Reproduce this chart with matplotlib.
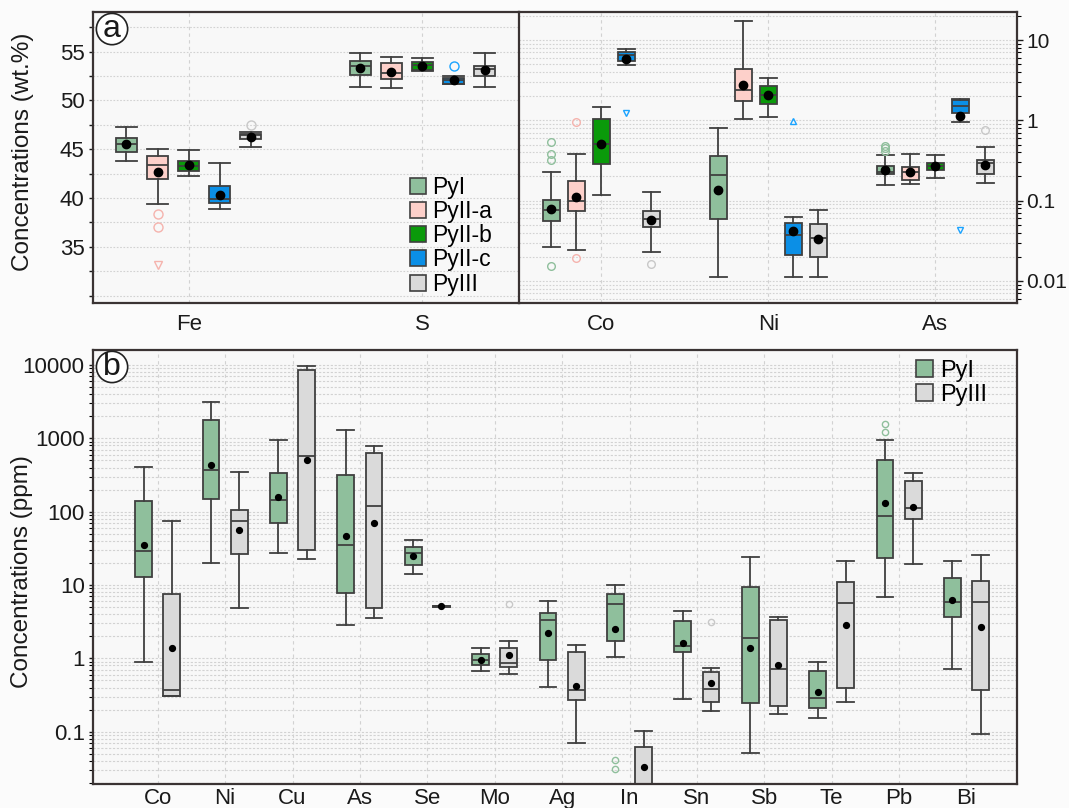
import matplotlib
matplotlib.use("Agg")
import matplotlib.pyplot as plt
from matplotlib.patches import Patch
from matplotlib.ticker import MultipleLocator, LogLocator, FixedLocator, FuncFormatter, NullFormatter

plt.rcParams['font.family'] = ['Liberation Sans', 'DejaVu Sans']

# ---------------------------------------------------------------- data
groups_a = ["PyI", "PyII-a", "PyII-b", "PyII-c", "PyIII"]
colors_a = ["#8fbf9c", "#fdd0ca", "#0a9a0a", "#0b8fe6", "#dadada"]
flier_colors_a = ["#8fbf9c", "#f5b3ad", "#0a9a0a", "#1aa3ff", "#c8c8c8"]

# rows per group: [lower whisker, Q1, median, Q3, upper whisker, mean]
major_elements = ["Fe", "S"]
fe_stats = [
    [43.75, 44.7, 45.5, 46.2, 47.3, 45.5],
    [39.4, 41.9, 43.4, 44.3, 45.0, 42.7],
    [42.25, 42.8, 43.3, 43.8, 44.9, 43.4],
    [38.9, 39.45, 39.9, 41.25, 43.6, 40.3],
    [45.25, 46.0, 46.45, 46.6, 46.8, 46.3],
]
s_stats = [
    [51.35, 52.6, 53.5, 54.0, 54.9, 53.3],
    [51.25, 52.25, 52.85, 53.8, 54.45, 52.9],
    [53.0, 53.1, 53.6, 53.9, 54.35, 53.5],
    [51.65, 51.65, 52.05, 52.35, 52.5, 52.1],
    [51.4, 52.55, 53.2, 53.55, 54.9, 53.1],
]
minor_elements = ["Co", "Ni", "As"]
co_stats = [
    [0.0262, 0.0564, 0.0759, 0.103, 0.23, 0.0795],
    [0.0243, 0.0737, 0.099, 0.177, 0.381, 0.111],
    [0.118, 0.283, 0.513, 1.04, 1.45, 0.51],
    [4.93, 5.48, 6.5, 7.16, 7.8, 5.8],
    [0.0232, 0.047, 0.0597, 0.075, 0.129, 0.0569],
]
ni_stats = [
    [0.0112, 0.0597, 0.206, 0.363, 0.81, 0.1345],
    [1.04, 1.74, 2.41, 4.35, 17.1, 2.75],
    [1.09, 1.6, 2.07, 2.7, 3.4, 2.07],
    [0.0112, 0.0213, 0.037, 0.0523, 0.062, 0.0415],
    [0.0112, 0.0197, 0.0346, 0.0507, 0.0766, 0.0336],
]
as_stats = [
    [0.155, 0.213, 0.23, 0.267, 0.37, 0.243],
    [0.161, 0.182, 0.23, 0.262, 0.385, 0.225],
    [0.19, 0.239, 0.27, 0.297, 0.37, 0.27],
    [0.96, 1.22, 1.49, 1.78, 1.86, 1.13],
    [0.167, 0.213, 0.297, 0.32, 0.47, 0.28],
]
# outliers: (element, group, value, marker)
outliers_major = [
    ("Fe", "PyII-a", 38.35, "o"), ("Fe", "PyII-a", 37.05, "o"),
    ("Fe", "PyII-a", 33.1, "v"), ("Fe", "PyIII", 47.5, "o"),
    ("S", "PyII-c", 53.55, "o"),
]
outliers_minor = [
    ("Co", "PyI", 0.54, "o"), ("Co", "PyI", 0.384, "o"), ("Co", "PyI", 0.318, "o"),
    ("Co", "PyI", 0.0152, "o"), ("Co", "PyII-a", 0.96, "o"), ("Co", "PyII-a", 0.0193, "o"),
    ("Co", "PyII-c", 1.22, "v"), ("Co", "PyIII", 0.0161, "o"),
    ("Ni", "PyII-c", 0.99, "^"),
    ("As", "PyI", 0.48, "o"), ("As", "PyI", 0.45, "o"), ("As", "PyI", 0.42, "o"),
    ("As", "PyII-c", 0.0432, "v"), ("As", "PyIII", 0.766, "o"),
]

trace_elements = ["Co", "Ni", "Cu", "As", "Se", "Mo", "Ag", "In", "Sn", "Sb", "Te", "Pb", "Bi"]
groups_b = ["PyI", "PyIII"]
colors_b = ["#8fbf9c", "#dadada"]
pyI_stats = [
    [0.88, 12.7, 29.4, 141, 403, 35.1],
    [20.2, 149, 370, 1800, 3160, 437],
    [27, 69.4, 144, 333, 949, 157],
    [2.85, 7.69, 35.5, 320, 1312, 46.1],
    [14.1, 18.7, 27, 32.7, 41, 25.1],
    [0.67, 0.80, 0.95, 1.15, 1.4, 0.95],
    [0.407, 0.95, 3.33, 4.11, 6.05, 2.19],
    [1.05, 1.72, 5.45, 7.6, 10.0, 2.48],
    [0.276, 1.21, 1.49, 3.23, 4.42, 1.6],
    [0.0507, 0.248, 1.89, 9.5, 24.1, 1.4],
    [0.153, 0.212, 0.285, 0.665, 0.9, 0.344],
    [6.93, 23.1, 87.3, 507, 960, 130],
    [0.708, 3.66, 5.8, 12.3, 21.2, 6.3],
]
pyIII_stats = [
    [0.303, 0.303, 0.374, 7.46, 74.6, 1.37],
    [4.9, 26.2, 74.6, 105, 344, 55.6],
    [22.6, 30, 574, 8460, 9800, 507],
    [3.5, 4.8, 119, 624, 794, 69.3],
    [5.0, 5.05, 5.1, 5.15, 5.2, 5.1],
    [0.618, 0.753, 0.873, 1.4, 1.74, 1.11],
    [0.0708, 0.27, 0.366, 1.23, 1.5, 0.42],
    [0.012, 0.014, 0.016, 0.061, 0.102, 0.0333],
    [0.193, 0.251, 0.378, 0.644, 0.73, 0.466],
    [0.172, 0.224, 0.722, 3.3, 3.66, 0.82],
    [0.257, 0.39, 5.74, 10.9, 21.2, 2.82],
    [19.5, 79.4, 113, 262, 333, 117],
    [0.092, 0.366, 5.87, 11.3, 25.7, 2.65],
]
outliers_trace = [
    ("In", "PyI", 0.041), ("In", "PyI", 0.0306),
    ("Pb", "PyI", 1550), ("Pb", "PyI", 1230),
    ("Mo", "PyIII", 5.5), ("Sn", "PyIII", 3.13),
]
flier_colors_b = ["#8fbf9c", "#c8c8c8"]

# ---------------------------------------------------------------- style
EDGE = "#404040"
SPINE = "#3a3333"
GRID = "#d2d2d2"
BG = "#f8f8f8"
TXT = "#1a1a1a"
TICK_FS = 16


def to_stats(row):
    lo, q1, med, q3, hi, mean = row
    return dict(whislo=lo, q1=q1, med=med, q3=q3, whishi=hi, mean=mean, fliers=[])


def draw_group(ax, rows, positions, color, width, lw, mean_ms):
    stats = [to_stats(r) for r in rows]
    return ax.bxp(stats, positions=positions, widths=width, capwidths=width,
                  patch_artist=True, showmeans=True, showfliers=False,
                  manage_ticks=False,
                  boxprops=dict(facecolor=color, edgecolor=EDGE, linewidth=lw),
                  whiskerprops=dict(color=EDGE, linewidth=lw),
                  capprops=dict(color=EDGE, linewidth=lw),
                  medianprops=dict(color=EDGE, linewidth=lw),
                  meanprops=dict(marker="o", markerfacecolor="black",
                                 markeredgecolor="black", markersize=mean_ms))


def style_spines(ax):
    for s in ax.spines.values():
        s.set_color(SPINE)
        s.set_linewidth(1.6)
    ax.set_facecolor(BG)


def panel_tag(ax, x, y, letter):
    ax.text(x, y, letter, transform=ax.transAxes, fontsize=23, ha="center",
            va="center", color=TXT, zorder=6,
            bbox=dict(boxstyle="circle,pad=0.02", fc="white", ec="#222222", lw=1.2))


fig = plt.figure(figsize=(10.69, 8.08), dpi=100, facecolor="#fbfbfb")

# ---------------------------------------------------------------- panel a, left (linear, wt.%)
axL = fig.add_axes([0.0870, 0.6246, 0.3985, 0.3605])
axR = fig.add_axes([0.4855, 0.6246, 0.4659, 0.3605])
style_spines(axL)
style_spines(axR)

off_L, w_L = 0.133, 0.0885
for gi, g in enumerate(groups_a):
    rows = [fe_stats[gi], s_stats[gi]]
    pos = [ei + (gi - 2) * off_L for ei in range(len(major_elements))]
    draw_group(axL, rows, pos, colors_a[gi], w_L, 1.3, 6)
for el, g, v, m in outliers_major:
    gi = groups_a.index(g)
    x = major_elements.index(el) + (gi - 2) * off_L
    axL.plot([x], [v], marker=m, ls="none", mfc="none", mec=flier_colors_a[gi],
             ms=6.5 if m == "o" else 5.5, mew=1.0, zorder=3)

axL.set_xlim(-0.409, 1.413)
axL.set_ylim(29.2, 59.07)
axL.set_xticks(range(len(major_elements)))
axL.set_xticklabels(major_elements)
axL.yaxis.set_minor_locator(MultipleLocator(2.5))
axL.set_yticks([35, 40, 45, 50, 55])
axL.tick_params(axis="x", length=0, pad=8, labelsize=TICK_FS, colors=TXT)
axL.tick_params(axis="y", which="both", direction="out", length=3, width=1,
                pad=3, labelsize=TICK_FS, colors=TXT)
axL.grid(True, axis="y", which="both", color=GRID, linestyle=(0, (1.5, 1.5)), linewidth=0.8)
axL.grid(True, axis="x", color=GRID, linestyle=(0, (3, 3)), linewidth=0.8)
axL.set_axisbelow(True)
axL.spines["right"].set_visible(False)
axL.set_ylabel("Concentrations (wt.%)", fontsize=17.5, color=TXT)
axL.yaxis.set_label_coords(-0.1385, 0.52)

# ---------------------------------------------------------------- panel a, right (log, wt.%)
off_R, w_R = 0.150, 0.102
for gi, g in enumerate(groups_a):
    rows = [co_stats[gi], ni_stats[gi], as_stats[gi]]
    pos = [ei + (gi - 2) * off_R for ei in range(len(minor_elements))]
    draw_group(axR, rows, pos, colors_a[gi], w_R, 1.3, 6)
for el, g, v, m in outliers_minor:
    gi = groups_a.index(g)
    x = minor_elements.index(el) + (gi - 2) * off_R
    axR.plot([x], [v], marker=m, ls="none", mfc="none", mec=flier_colors_a[gi],
             ms=5.5 if m == "o" else 5.0, mew=1.0, zorder=3)

axR.set_yscale("log")
axR.set_xlim(-0.493, 2.489)
axR.set_ylim(0.00527, 22.3)
axR.set_xticks(range(len(minor_elements)))
axR.set_xticklabels(minor_elements)
axR.yaxis.tick_right()
axR.yaxis.set_major_locator(FixedLocator([0.01, 0.1, 1, 10]))
axR.yaxis.set_major_formatter(FuncFormatter(lambda v, _: f"{v:g}"))
axR.yaxis.set_minor_locator(LogLocator(base=10, subs=range(2, 10)))
axR.yaxis.set_minor_formatter(NullFormatter())
axR.tick_params(axis="x", length=0, pad=8, labelsize=TICK_FS, colors=TXT)
axR.tick_params(axis="y", which="major", direction="out", length=4, width=1,
                pad=2.5, labelsize=15, colors=TXT)
axR.tick_params(axis="y", which="minor", direction="out", length=3, width=0.8)
axR.grid(True, axis="y", which="both", color=GRID, linestyle=(0, (1.5, 1.5)), linewidth=0.8)
axR.grid(True, axis="x", color=GRID, linestyle=(0, (3, 3)), linewidth=0.8)
axR.set_axisbelow(True)

axL.legend([Patch(facecolor=c, edgecolor=EDGE, linewidth=1.2) for c in colors_a], groups_a,
           loc="upper left", bbox_to_anchor=(0.743, 0.437), frameon=False,
           fontsize=16.5, handlelength=0.7, handleheight=0.7, handletextpad=0.3,
           labelspacing=0.05, borderpad=0, borderaxespad=0)

panel_tag(axL, 0.0446, 0.9416, "a")

# ---------------------------------------------------------------- panel b (log, ppm)
axB = fig.add_axes([0.0870, 0.0297, 0.8644, 0.5371])
style_spines(axB)
off_B, w_B = 0.21, 0.25
for gi, (rows, col) in enumerate(zip([pyI_stats, pyIII_stats], colors_b)):
    pos = [ei + (gi * 2 - 1) * off_B for ei in range(len(trace_elements))]
    draw_group(axB, rows, pos, col, w_B, 1.3, 4.2)
for el, g, v in outliers_trace:
    gi = groups_b.index(g)
    x = trace_elements.index(el) + (gi * 2 - 1) * off_B
    axB.plot([x], [v], marker="o", ls="none", mfc="none", mec=flier_colors_b[gi],
             ms=4.5, mew=1.0, zorder=3)

axB.set_yscale("log")
axB.set_xlim(-0.96, 12.75)
axB.set_ylim(0.01936, 16020)
axB.set_xticks(range(len(trace_elements)))
axB.set_xticklabels(trace_elements)
axB.yaxis.set_major_locator(FixedLocator([0.1, 1, 10, 100, 1000, 10000]))
axB.yaxis.set_major_formatter(FuncFormatter(lambda v, _: f"{v:g}"))
axB.yaxis.set_minor_locator(LogLocator(base=10, subs=range(2, 10)))
axB.yaxis.set_minor_formatter(NullFormatter())
axB.tick_params(axis="x", length=0, pad=3, labelsize=TICK_FS, colors=TXT)
axB.tick_params(axis="y", which="major", direction="out", length=3, width=1,
                pad=3, labelsize=TICK_FS, colors=TXT)
axB.tick_params(axis="y", which="minor", direction="out", length=3, width=0.8)
axB.grid(True, axis="y", which="both", color=GRID, linestyle=(0, (2, 1.5)), linewidth=0.8)
axB.grid(True, axis="x", color=GRID, linestyle=(0, (3, 3)), linewidth=0.8)
axB.set_axisbelow(True)
axB.set_ylabel("Concentrations (ppm)", fontsize=17.5, color=TXT)
axB.yaxis.set_label_coords(-0.065, 0.49)

axB.legend([Patch(facecolor=c, edgecolor=EDGE, linewidth=1.2) for c in colors_b], groups_b,
           loc="upper left", bbox_to_anchor=(0.891, 0.978), frameon=False,
           fontsize=17, handlelength=0.7, handleheight=0.7, handletextpad=0.3,
           labelspacing=0.1, borderpad=0, borderaxespad=0)

panel_tag(axB, 0.0206, 0.961, "b")

fig.savefig("out.png", dpi=100, facecolor=fig.get_facecolor())
